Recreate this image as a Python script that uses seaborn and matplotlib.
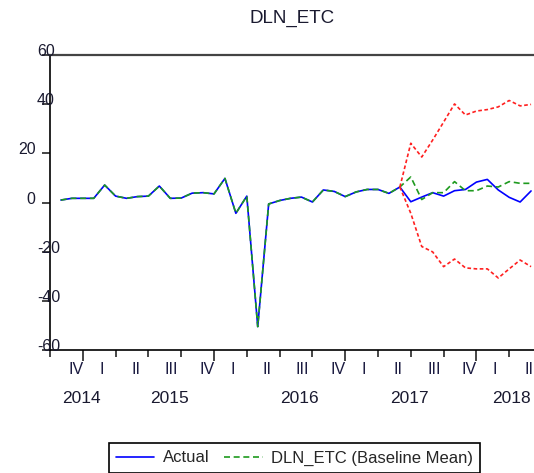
import pandas as pd
import matplotlib
matplotlib.use("Agg")
import matplotlib.pyplot as plt
import matplotlib.transforms as mtransforms
import seaborn as sns

# month index counted from Oct 2014 (0 = start of 2014 Q4)
months = list(range(1, 45))
actual = [1.0, 1.7, 1.7, 1.7, 7.1, 2.6, 1.7, 2.4, 2.6, 6.7, 1.7, 1.8,
          3.8, 4.0, 3.5, 9.8, -4.4, 2.6, -50.5, -0.6, 0.8, 1.7, 2.2, 0.2,
          5.1, 4.5, 2.4, 4.3, 5.3, 5.3, 3.7, 6.3, 0.3, 2.2, 4.0, 2.6,
          4.8, 5.3, 8.3, 9.4, 5.1, 2.1, 0.2, 4.7]

# forecast period (months 32..44)
fc_months = list(range(32, 45))
baseline_fc = [6.3, 10.4, 1.2, 4.0, 4.0, 8.5, 4.8, 4.8, 6.7, 6.3, 8.5, 7.8, 7.8]
upper = [6.3, 24.1, 18.5, 25.4, 32.7, 40.1, 35.6, 37.2, 37.8, 38.9, 41.5, 39.3, 39.9]
lower = [6.3, -4.4, -17.9, -20.1, -26.1, -23.0, -26.6, -27.0, -27.0, -30.7, -27.0, -23.4, -26.1]

baseline = actual[:31] + baseline_fc

quarter_labels = ['IV', 'I', 'II', 'III', 'IV', 'I', 'II', 'III', 'IV',
                  'I', 'II', 'III', 'IV', 'I', 'II']
year_labels = ['2014', '2015', '2016', '2017', '2018']
year_pos = [2.9, 10.9, 22.8, 32.9, 42.2]
ytick_vals = [60, 40, 20, 0, -20, -40, -60]

df = pd.DataFrame({'month': months, 'actual': actual, 'baseline': baseline})
fc = pd.DataFrame({'month': fc_months, 'upper': upper, 'lower': lower})

sns.set_style("white")
plt.rcParams['font.family'] = ['Liberation Sans', 'DejaVu Sans']

W, H = 534, 473
fig = plt.figure(figsize=(W / 100, H / 100), dpi=100)
ax = fig.add_axes([50 / W, 1 - 350 / H, 492 / W, 295 / H])

blue = '#0000ff'
green = '#1e9a1e'
red = '#ff2020'

sns.lineplot(data=df, x='month', y='actual', ax=ax, color=blue, lw=1.2,
             label='Actual')
sns.lineplot(data=df, x='month', y='baseline', ax=ax, color=green, lw=1.2,
             linestyle=(0, (3.6, 2.2)), label='DLN_ETC (Baseline Mean)')
sns.lineplot(data=fc, x='month', y='upper', ax=ax, color=red, lw=1.2,
             linestyle=(0, (2.2, 1.5)))
sns.lineplot(data=fc, x='month', y='lower', ax=ax, color=red, lw=1.2,
             linestyle=(0, (2.2, 1.5)))
if ax.get_legend():
    ax.get_legend().remove()

ax.set_xlim(0, 45)
ax.set_ylim(-60, 60)
ax.set_xlabel('')
ax.set_ylabel('')

for s in ax.spines.values():
    s.set_color('black')
    s.set_linewidth(1.2)
ax.spines['top'].set_color('#444444')
ax.spines['top'].set_linewidth(1.6)

# x ticks: quarter ticks, longer at year starts
ax.set_xticks([3, 15, 27, 39])
ax.set_xticks(list(range(0, 46, 3)), minor=True)
ax.tick_params(axis='x', which='major', direction='out', length=8, width=1.2,
               labelbottom=False, bottom=True)
ax.tick_params(axis='x', which='minor', direction='out', length=5, width=1.2,
               bottom=True)
ax.set_yticks(ytick_vals)
ax.tick_params(axis='y', direction='out', length=6, width=1.2, left=True,
               labelleft=False)

qoff = {'I': 0.2, 'II': 0.35, 'III': 0.6, 'IV': 0.85}
tr_x = mtransforms.blended_transform_factory(ax.transData, fig.transFigure)
for i, q in enumerate(quarter_labels):
    ax.text(i * 3 + 1.5 + qoff[q], 1 - 369 / H, q, transform=tr_x,
            ha='center', va='center', fontsize=11.5, color='#1a1a40')
for y, xp in zip(year_labels, year_pos):
    ax.text(xp, 1 - 398 / H, y, transform=tr_x, ha='center', va='center',
            fontsize=12.5, color='#1a1a30')

tr_y = mtransforms.blended_transform_factory(fig.transFigure, ax.transData) + \
    mtransforms.ScaledTranslation(0, 3.5 / 100, fig.dpi_scale_trans)
for v in ytick_vals:
    if v in (20, 0):
        ax.text(35.5 / W, v, str(v), transform=tr_y, ha='right', va='center',
                fontsize=11.5, color='#1a1a30')
    else:
        ax.text(37 / W, v, str(v), transform=tr_y, ha='left', va='center',
                fontsize=11.5, color='#1a1a30')

fig.text(292.5 / W, 1 - 18.5 / H, 'DLN_ETC', ha='center', va='center',
         fontsize=13.5, color='#1a1a30')

handles = ax.lines[:2]
leg = fig.legend(handles, ['Actual', 'DLN_ETC (Baseline Mean)'],
                 loc='upper center', bbox_to_anchor=(294.5 / W, 1 - 443 / H),
                 ncol=2, frameon=True, fancybox=False, edgecolor='black',
                 framealpha=1, fontsize=12, handlelength=2.3,
                 columnspacing=0.9, handletextpad=0.5, borderpad=0.45,
                 borderaxespad=0)
leg.get_frame().set_linewidth(1.2)

fig.savefig('out.png', dpi=100)
